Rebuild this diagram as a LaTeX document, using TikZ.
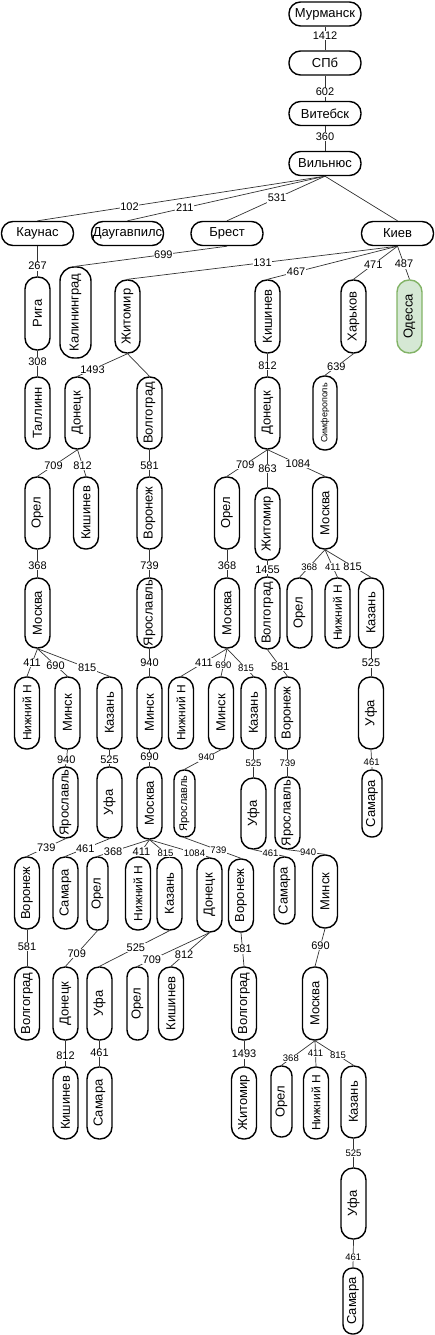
\documentclass[tikz,border=0pt]{standalone}
\usepackage{fontspec}
\setmainfont{Liberation Sans}
\newcommand\fsz[1]{\fontsize{#1}{#1}\selectfont}
\tikzset{
  x=1pt, y=-1pt,
  hbox/.style={draw=black, line width=1.4pt, rounded corners=11.5pt, minimum width=72pt, minimum height=24pt, inner sep=0pt, font=\fsz{13}},
  vbox/.style={draw=black, line width=1.4pt, rounded corners=12pt, minimum width=25pt, inner sep=0pt, font=\fsz{13}},
  narrow/.style={minimum width=21pt, rounded corners=10pt},
  green/.style={draw={rgb,255:red,130;green,179;blue,102}, fill={rgb,255:red,213;green,232;blue,212}},
  lbl/.style={fill=white, inner sep=0.6pt, font=\fsz{11}},
  slbl/.style={fill=white, inner sep=0.6pt, font=\fsz{9.5}},
  edge/.style={draw=black!80, line width=0.7pt}
}
% \vn[opts]{name}{cx,cy}{height}{text}
\newcommand\vn[5][]{\node[vbox, minimum height=#4pt, #1] (#2) at (#3) {\rotatebox{90}{#5}};}
\begin{document}
\begin{tikzpicture}
\useasboundingbox (0,0) rectangle (434,1335);
% horizontal nodes
\node[hbox] (murm) at (325,14) {Мурманск};
\node[hbox] (spb) at (325,63) {СПб};
\node[hbox] (vit) at (325,113.5) {Витебск};
\node[hbox] (viln) at (325,163.5) {Вильнюс};
\node[hbox] (kaun) at (37.5,233.5) {Каунас};
\node[hbox] (daug) at (127.5,233.5) {Даугавпилс};
\node[hbox] (brest) at (227,233.5) {Брест};
\node[hbox] (kiev) at (397.5,233.5) {Киев};
% row 2
\vn{riga}{37.5,313.5}{73}{Рига}
\vn[minimum width=31pt, rounded corners=14pt]{kalin}{75.5,312.5}{91}{Калининград}
\vn{zhit1}{127.5,316.5}{73}{Житомир}
\vn{kish1}{267.5,316.5}{73}{Кишинев}
\vn{khar}{353.5,316.5}{73}{Харьков}
\vn[green]{odes}{409.5,316.5}{73}{Одесса}
% row 3
\vn{tall}{37.5,413}{72}{Таллинн}
\vn{don1}{77.5,413}{72}{Донецк}
\vn{volg1}{149.5,413}{72}{Волгоград}
\vn{don2}{267.5,413}{72}{Донецк}
\vn[minimum width=24pt, rounded corners=11.5pt, font=\fsz{9}]{simf}{325,413}{74}{Симферополь}
% row 4
\vn{orel1}{37.5,513}{72}{Орел}
\vn{kish2}{86,513}{72}{Кишинев}
\vn{vor1}{149.5,513}{72}{Воронеж}
\vn{orel2}{227,513}{72}{Орел}
\vn{zhit2}{267.5,524}{72}{Житомир}
\vn{mosk1}{325,513}{72}{Москва}
% row 5
\vn{mosk2}{37.5,613}{70}{Москва}
\vn{yar1}{149.5,613}{70}{Ярославль}
\vn{mosk3}{227,613}{70}{Москва}
\vn{volg2}{267.5,613}{72}{Волгоград}
\vn{orel3}{299.5,613}{70}{Орел}
\vn[font=\fsz{12}]{nn1}{337.5,613}{70}{Нижний Н}
\vn{kaz1}{371,613}{70}{Казань}
% row 6
\vn[font=\fsz{12}]{nn2}{27,713}{72}{Нижний Н}
\vn{minsk1}{67.5,713}{72}{Минск}
\vn{kaz2}{109.5,713}{72}{Казань}
\vn{minsk2}{149.5,713}{72}{Минск}
\vn[font=\fsz{12}]{nn3}{181,713}{72}{Нижний Н}
\vn{minsk3}{221,713}{72}{Минск}
\vn{kaz3}{253.5,713}{72}{Казань}
\vn{vor2}{287.5,713}{72}{Воронеж}
\vn{ufa1}{371,713}{72}{Уфа}
% row 7
\vn{yar2}{65.5,802.5}{71}{Ярославль}
\vn{ufa2}{109.5,802.5}{71}{Уфа}
\vn{mosk4}{149.5,803}{72}{Москва}
\vn[narrow, font=\fsz{11}]{yar3}{184.5,803.5}{67}{Ярославль}
\vn{ufa3}{253.5,813.5}{71}{Уфа}
\vn{yar4}{287.5,813}{72}{Ярославль}
\vn[narrow, minimum width=20pt, rounded corners=9.5pt]{sam1}{372,803.5}{67}{Самара}
% row 8
\vn{vor3}{27,893}{72}{Воронеж}
\vn{sam2}{65.5,893}{72}{Самара}
\vn[narrow]{orel4}{97.5,893.5}{73}{Орел}
\vn[font=\fsz{12}]{nn4}{138,893.5}{73}{Нижний Н}
\vn{kaz4}{169.5,893.5}{73}{Казань}
\vn{don3}{209.5,895}{74}{Донецк}
\vn{vor4}{241,895.5}{73}{Воронеж}
\vn[narrow]{sam3}{284.5,890.5}{67}{Самара}
\vn{minsk4}{325,891.5}{73}{Минск}
% row 9
\vn{volg3}{27,1003.5}{73}{Волгоград}
\vn{don4}{65.5,1003.5}{73}{Донецк}
\vn{ufa4}{99.5,1003.5}{73}{Уфа}
\vn[narrow]{orel5}{137.5,1003.5}{73}{Орел}
\vn{kish3}{171,1003.5}{73}{Кишинев}
\vn{volg4}{244,1003.5}{73}{Волгоград}
\vn{mosk5}{315,1003.5}{73}{Москва}
% row 10
\vn{kish4}{65.5,1103}{72}{Кишинев}
\vn{sam4}{99.5,1103}{72}{Самара}
\vn{zhit3}{244,1103}{72}{Житомир}
\vn[narrow]{orel6}{281.5,1101.5}{71}{Орел}
\vn[font=\fsz{12}]{nn5}{316,1103}{72}{Нижний Н}
\vn{kaz5}{353.5,1102}{72}{Казань}
% rows 11-12
\vn{ufa5}{353.5,1203.5}{71}{Уфа}
\vn[narrow, minimum width=20pt, rounded corners=9.5pt]{sam5}{353,1301}{66}{Самара}
% edges
\draw[edge] (murm.south) -- node[lbl,pos=.36]{1412} (spb.north);
\draw[edge] (spb.south) -- node[lbl,pos=.65]{602} (vit.north);
\draw[edge] (vit.south) -- node[lbl,pos=.42]{360} (viln.north);
\draw[edge] (viln.south) -- node[lbl,pos=.68]{102} (kaun.north);
\draw[edge] (viln.south) -- node[lbl,pos=.71]{211} (daug.north);
\draw[edge] (viln.south) -- node[lbl,pos=.49]{531} (brest.north);
\draw[edge] (viln.south) -- (kiev.north);
\draw[edge] (kaun.south) -- node[lbl,pos=.66]{267} (riga.north);
\draw[edge] (brest.south) -- node[lbl,pos=.42]{699} (kalin.north);
\draw[edge] (kiev.south) -- node[lbl,pos=.50]{131} (zhit1.north);
\draw[edge] (kiev.south) -- node[lbl,pos=.78]{467} (kish1.north);
\draw[edge] (kiev.south) -- node[lbl,pos=.55]{471} (khar.north);
\draw[edge] (kiev.south) -- node[lbl,pos=.54]{487} (odes.north);
\draw[edge] (riga.south) -- node[lbl,pos=.44]{308} (tall.north);
\draw[edge] (zhit1.south) -- node[lbl,pos=.7]{1493} (don1.north);
\draw[edge] (zhit1.south) -- (volg1.north);
\draw[edge] (kish1.south) -- node[lbl,pos=.54]{812} (don2.north);
\draw[edge] (khar.south) -- node[lbl,pos=.6]{639} (simf.north);
\draw[edge] (don1.south) -- node[lbl,pos=.6]{709} (orel1.north);
\draw[edge] (don1.south) -- node[lbl,pos=.6]{812} (kish2.north);
\draw[edge] (volg1.south) -- node[lbl,pos=.6]{581} (vor1.north);
\draw[edge] (don2.south) -- node[lbl,pos=.55]{709} (orel2.north);
\draw[edge] (don2.south) -- node[lbl,pos=.51]{863} (zhit2.north);
\draw[edge] (don2.south) -- node[lbl,pos=.53]{1084} (mosk1.north);
\draw[edge] (orel1.south) -- node[lbl,pos=.59]{368} (mosk2.north);
\draw[edge] (vor1.south) -- node[lbl,pos=.59]{739} (yar1.north);
\draw[edge] (orel2.south) -- node[lbl,pos=.59]{368} (mosk3.north);
\draw[edge] (zhit2.south) -- node[lbl,pos=.59]{1455} (volg2.north);
\draw[edge] (mosk1.south) -- node[slbl,pos=.62]{368} (orel3.north);
\draw[edge] (mosk1.south) -- node[slbl,pos=.62]{411} (nn1.north);
\draw[edge] (mosk1.south) -- node[lbl,pos=.6]{815} (kaz1.north);
\draw[edge] (mosk2.south) -- node[lbl,pos=.52]{411} (nn2.north);
\draw[edge] (mosk2.south) -- node[lbl,pos=.6]{690} (minsk1.north);
\draw[edge] (mosk2.south) -- node[lbl,pos=.69]{815} (kaz2.north);
\draw[edge] (yar1.south) -- node[lbl,pos=.52]{940} (minsk2.north);
\draw[edge] (mosk3.south) -- node[lbl,pos=.5]{411} (nn3.north);
\draw[edge] (mosk3.south) -- node[slbl,pos=.6]{690} (minsk3.north);
\draw[edge] (mosk3.south) -- node[slbl,pos=.72]{815} (kaz3.north);
\draw[edge] (volg2.south) -- node[lbl,pos=.64]{581} (vor2.north);
\draw[edge] (kaz1.south) -- node[lbl,pos=.52]{525} (ufa1.north);
\draw[edge] (minsk1.south) -- node[lbl,pos=.6]{940} (yar2.north);
\draw[edge] (kaz2.south) -- node[lbl,pos=.6]{525} (ufa2.north);
\draw[edge] (minsk2.south) -- node[lbl,pos=.45]{690} (mosk4.north);
\draw[edge] (minsk3.south) -- node[slbl,pos=.4]{940} (yar3.north);
\draw[edge] (kaz3.south) -- node[slbl,pos=.48]{525} (ufa3.north);
\draw[edge] (vor2.south) -- node[slbl,pos=.5]{739} (yar4.north);
\draw[edge] (ufa1.south) -- node[slbl,pos=.66]{461} (sam1.north);
\draw[edge] (yar2.south) -- node[lbl,pos=.5]{739} (vor3.north);
\draw[edge] (ufa2.south) -- node[lbl,pos=.55]{461} (sam2.north);
\draw[edge] (mosk4.south) -- node[lbl,pos=.7]{368} (orel4.north);
\draw[edge] (mosk4.south) -- node[lbl,pos=.7]{411} (nn4.north);
\draw[edge] (mosk4.south) -- node[slbl,pos=.8]{815} (kaz4.north);
\draw[edge] (mosk4.south) -- node[slbl,pos=.75]{1084} (don3.north);
\draw[edge] (yar3.south) -- node[slbl,pos=.6]{739} (vor4.north);
\draw[edge] (ufa3.south) -- node[slbl,pos=.55]{461} (sam3.north);
\draw[edge] (yar4.south) -- node[slbl,pos=.55]{940} (minsk4.north);
\draw[edge] (vor3.south) -- node[lbl,pos=.47]{581} (volg3.north);
\draw[edge] (orel4.south) -- node[lbl,pos=.65]{709} (don4.north);
\draw[edge] (kaz4.south) -- node[lbl,pos=.48]{525} (ufa4.north);
\draw[edge] (don3.south) -- node[lbl,pos=.8]{709} (orel5.north);
\draw[edge] (don3.south) -- node[lbl,pos=.66]{812} (kish3.north);
\draw[edge] (vor4.south) -- node[lbl,pos=.49]{581} (volg4.north);
\draw[edge] (minsk4.south) -- node[lbl,pos=.45]{690} (mosk5.north);
\draw[edge] (don4.south) -- node[lbl,pos=.6]{812} (kish4.north);
\draw[edge] (ufa4.south) -- node[lbl,pos=.48]{461} (sam4.north);
\draw[edge] (volg4.south) -- node[lbl,pos=.52]{1493} (zhit3.north);
\draw[edge] (mosk5.south) -- node[slbl,pos=.72]{368} (orel6.north);
\draw[edge] (mosk5.south) -- node[slbl,pos=.5]{411} (nn5.north);
\draw[edge] (mosk5.south) -- node[slbl,pos=.6]{815} (kaz5.north);
\draw[edge] (kaz5.south) -- node[slbl,pos=.5]{525} (ufa5.north);
\draw[edge] (ufa5.south) -- node[slbl,pos=.62]{461} (sam5.north);
\end{tikzpicture}
\end{document}
